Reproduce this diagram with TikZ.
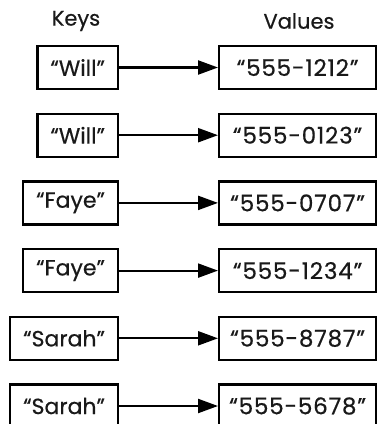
\documentclass[tikz,border=0pt]{standalone}
\usepackage{fontspec}
\setmainfont{Poppins}
\usetikzlibrary{arrows.meta}
\begin{document}
\begin{tikzpicture}[x=1pt,y=-1pt,
  txt/.style={font=\fontsize{22}{26}\selectfont\addfontfeature{FakeBold=0.5}, text=black!90},
  keybox/.style={txt, draw, line width=2.2pt, anchor=east, minimum height=43pt, inner xsep=13pt},
  valbox/.style={font=\fontsize{23}{27}\selectfont\addfontfeature{LetterSpace=3.5,FakeBold=0.5}, text=black!90, draw, line width=2.2pt, anchor=west, minimum height=43pt, minimum width=157pt, inner xsep=0pt},
  link/.style={line width=2.2pt, -{Triangle[length=20pt,width=14pt]}},
  head/.style={font=\fontsize{21}{25}\selectfont\addfontfeature{FakeBold=0.5}, text=black!90}]
\useasboundingbox (0,0) rectangle (376,424);
\node[head] (hk) at (76,21) {Keys};
\node[head] (hv) at (299,21) {Values};
\foreach \k/\v [count=\i from 0] in {Will/555-1212,Will/555-0123,Faye/555-0707,Faye/555-1234,Sarah/555-8787,Sarah/555-5678}{
  \pgfmathsetmacro{\yy}{67.5+67.7*\i}
  \node[keybox] (k\i) at (119,\yy) {“\k”};
  \node[valbox] (v\i) at (218,\yy) {“\v”};
  \draw[link] (k\i.east) -- (v\i.west);
}
\end{tikzpicture}
\end{document}
